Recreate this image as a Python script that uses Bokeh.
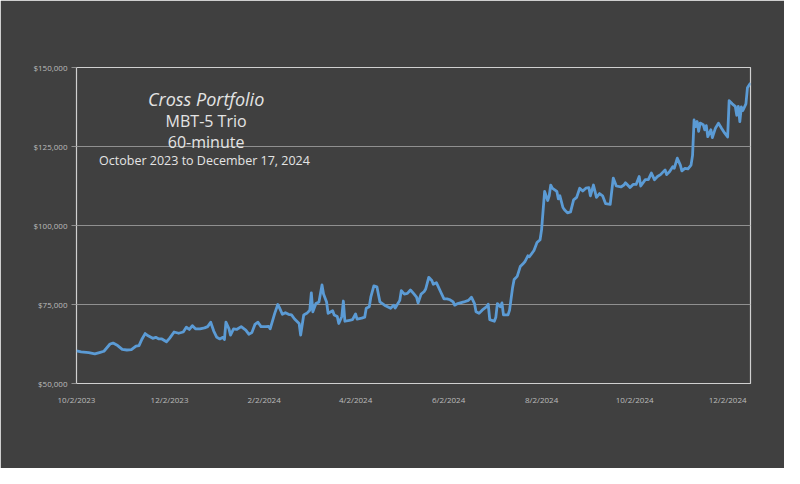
import pandas as pd
from bokeh.plotting import figure
from bokeh.models import Range1d, FixedTicker, NumeralTickFormatter, Label
from bokeh.embed import file_html
from bokeh.resources import INLINE

# ---------------- data ----------------
DATES = [
    "2023-10-02", "2023-10-05", "2023-10-10", "2023-10-14", "2023-10-17", "2023-10-20",
    "2023-10-24", "2023-10-26", "2023-10-29", "2023-11-01", "2023-11-04", "2023-11-07",
    "2023-11-10", "2023-11-12", "2023-11-14", "2023-11-16", "2023-11-18", "2023-11-21",
    "2023-11-23", "2023-11-25", "2023-11-27", "2023-11-30", "2023-12-02", "2023-12-05",
    "2023-12-08", "2023-12-11", "2023-12-13", "2023-12-15", "2023-12-17", "2023-12-19",
    "2023-12-22", "2023-12-25", "2023-12-27", "2023-12-29", "2023-12-31", "2024-01-02",
    "2024-01-04", "2024-01-06", "2024-01-07", "2024-01-08", "2024-01-10", "2024-01-11",
    "2024-01-13", "2024-01-15", "2024-01-18", "2024-01-21", "2024-01-23", "2024-01-25",
    "2024-01-27", "2024-01-29", "2024-01-31", "2024-02-03", "2024-02-05", "2024-02-06",
    "2024-02-09", "2024-02-11", "2024-02-12", "2024-02-14", "2024-02-16", "2024-02-18",
    "2024-02-20", "2024-02-22", "2024-02-25", "2024-02-26", "2024-02-28", "2024-03-01",
    "2024-03-03", "2024-03-04", "2024-03-05", "2024-03-07", "2024-03-09", "2024-03-11",
    "2024-03-12", "2024-03-14", "2024-03-15", "2024-03-18", "2024-03-19", "2024-03-21",
    "2024-03-22", "2024-03-24", "2024-03-25", "2024-03-26", "2024-03-29", "2024-03-31",
    "2024-04-02", "2024-04-03", "2024-04-06", "2024-04-08", "2024-04-09", "2024-04-11",
    "2024-04-12", "2024-04-14", "2024-04-16", "2024-04-18", "2024-04-21", "2024-04-23",
    "2024-04-25", "2024-04-27", "2024-04-28", "2024-05-01", "2024-05-02", "2024-05-04",
    "2024-05-06", "2024-05-08", "2024-05-10", "2024-05-12", "2024-05-13", "2024-05-15",
    "2024-05-17", "2024-05-18", "2024-05-20", "2024-05-22", "2024-05-23", "2024-05-25",
    "2024-05-26", "2024-05-28", "2024-05-30", "2024-06-01", "2024-06-03", "2024-06-05",
    "2024-06-06", "2024-06-08", "2024-06-12", "2024-06-15", "2024-06-17", "2024-06-19",
    "2024-06-20", "2024-06-22", "2024-06-24", "2024-06-27", "2024-06-28", "2024-06-29",
    "2024-07-02", "2024-07-03", "2024-07-04", "2024-07-06", "2024-07-07", "2024-07-08",
    "2024-07-11", "2024-07-12", "2024-07-14", "2024-07-15", "2024-07-17", "2024-07-19",
    "2024-07-21", "2024-07-22", "2024-07-24", "2024-07-25", "2024-07-28", "2024-07-30",
    "2024-08-01", "2024-08-02", "2024-08-03", "2024-08-04", "2024-08-06", "2024-08-07",
    "2024-08-08", "2024-08-09", "2024-08-12", "2024-08-13", "2024-08-14", "2024-08-16",
    "2024-08-17", "2024-08-19", "2024-08-21", "2024-08-23", "2024-08-25", "2024-08-27",
    "2024-08-29", "2024-08-31", "2024-09-02", "2024-09-03", "2024-09-05", "2024-09-07",
    "2024-09-09", "2024-09-11", "2024-09-13", "2024-09-16", "2024-09-18", "2024-09-20",
    "2024-09-23", "2024-09-25", "2024-09-26", "2024-09-29", "2024-10-01", "2024-10-03",
    "2024-10-05", "2024-10-06", "2024-10-09", "2024-10-11", "2024-10-13", "2024-10-15",
    "2024-10-17", "2024-10-19", "2024-10-22", "2024-10-23", "2024-10-25", "2024-10-27",
    "2024-10-28", "2024-10-30", "2024-11-01", "2024-11-02", "2024-11-04", "2024-11-06",
    "2024-11-08", "2024-11-09", "2024-11-10", "2024-11-11", "2024-11-12", "2024-11-13",
    "2024-11-14", "2024-11-16", "2024-11-17", "2024-11-18", "2024-11-19", "2024-11-21",
    "2024-11-22", "2024-11-24", "2024-11-26", "2024-11-28", "2024-11-30", "2024-12-02",
    "2024-12-03", "2024-12-05", "2024-12-07", "2024-12-08", "2024-12-09", "2024-12-10",
    "2024-12-11", "2024-12-12", "2024-12-14", "2024-12-15", "2024-12-17",
]

EQUITY = [
    60300, 60000, 59800, 59400, 59800, 60200,
    62500, 62800, 62000, 60800, 60600, 60700,
    61800, 62000, 64100, 65800, 65100, 64300,
    64600, 64100, 64100, 63200, 64300, 66300,
    65900, 66300, 67800, 67100, 68300, 67300,
    67300, 67600, 68000, 69400, 66600, 64600,
    64100, 64600, 63900, 69400, 67300, 65300,
    67300, 67100, 68000, 66900, 65600, 66100,
    68700, 69400, 68000, 68000, 68100, 67300,
    72200, 75000, 74100, 71900, 72400, 71900,
    71700, 70400, 69000, 65300, 71700, 72200,
    73200, 78700, 72700, 75300, 75800, 81200,
    78300, 75800, 72200, 73000, 71700, 71200,
    69000, 71200, 76100, 69700, 70000, 70200,
    72000, 70400, 70700, 71000, 73800, 74300,
    77300, 80900, 80600, 75800, 74800, 74300,
    73800, 74800, 73900, 76300, 79400, 78300,
    78500, 79600, 78500, 77300, 75500, 78300,
    79100, 79900, 83600, 82600, 81400, 81900,
    80900, 78800, 76800, 76800, 76500, 75800,
    74800, 75300, 75800, 76300, 77300, 75300,
    72700, 72200, 73200, 74300, 75100, 70200,
    69700, 71000, 75300, 74300, 75500, 71700,
    71700, 73200, 80400, 82900, 83900, 87000,
    88000, 88500, 90400, 90100, 92100, 94600,
    95500, 98700, 104800, 110800, 107900, 109400,
    112800, 111800, 110800, 108400, 109400, 105700,
    105000, 104000, 104300, 108100, 108900, 111800,
    110900, 111800, 112000, 109400, 112800, 108900,
    110100, 109400, 106900, 106700, 115000, 112500,
    112200, 112800, 113500, 112000, 113000, 113000,
    115500, 112500, 114500, 114500, 116600, 114500,
    115500, 116100, 117600, 116100, 117100, 118600,
    118100, 121300, 119100, 117300, 118100, 117900,
    119100, 122200, 133400, 131300, 132900, 129800,
    132400, 131900, 130300, 131600, 128100, 130300,
    127800, 130800, 132400, 130800, 129300, 128000,
    139500, 138500, 137700, 134900, 137700, 132900,
    137500, 136400, 138500, 143600, 145100,
]

X_TICK_LABELS = ["10/2/2023", "12/2/2023", "2/2/2024", "4/2/2024",
                 "6/2/2024", "8/2/2024", "10/2/2024", "12/2/2024"]
Y_TICKS = [50000, 75000, 100000, 125000, 150000]
X_START, X_END = "2023-10-02", "2024-12-17"

TITLE_LINES = ["Cross Portfolio", "MBT-5 Trio", "60-minute",
               "October  2023 to December 17, 2024"]

# ---------------- layout / style ----------------
BG = "#404040"
LINE = "#5b9bd5"
BORDER = "#d0d0d0"
GRID = "#909090"
TICK_TXT = "#bcbcbc"
TITLE_TXT = "#e4e4e4"

dates = pd.to_datetime(DATES)
x_start = pd.Timestamp(X_START)
x_end = pd.Timestamp(X_END)

p = figure(
    width=784, height=468,
    x_axis_type="datetime",
    x_range=Range1d(x_start, x_end),
    y_range=Range1d(Y_TICKS[0], Y_TICKS[-1]),
    output_backend="svg", toolbar_location=None,
    min_border_left=76, min_border_right=34,
    min_border_top=67, min_border_bottom=85,
    background_fill_color=BG, border_fill_color=BG,
)
p.title.visible = False

p.outline_line_color = BORDER
p.outline_line_width = 1.2

p.line(dates, EQUITY, line_color=LINE, line_width=2.8, line_join="round")

# x axis
tick_dates = pd.to_datetime(X_TICK_LABELS, format="%m/%d/%Y")
tick_ms = [int(t.value // 10**6) for t in tick_dates]
p.xaxis.ticker = FixedTicker(ticks=tick_ms)
p.xaxis.major_label_overrides = {ms: lab for ms, lab in zip(tick_ms, X_TICK_LABELS)}
p.xaxis.axis_line_color = None
p.xaxis.major_tick_line_color = None
p.xaxis.major_tick_in = 0
p.xaxis.major_tick_out = 0
p.xaxis.minor_tick_line_color = None
p.xaxis.minor_tick_in = 0
p.xaxis.minor_tick_out = 0
p.xaxis.major_label_standoff = 10
p.xaxis.major_label_text_color = TICK_TXT
p.xaxis.major_label_text_font = "Open Sans"
p.xaxis.major_label_text_font_size = "8px"

# y axis
p.yaxis.ticker = FixedTicker(ticks=Y_TICKS)
p.yaxis.formatter = NumeralTickFormatter(format="$0,0")
p.yaxis.axis_line_color = None
p.yaxis.major_tick_line_color = GRID
p.yaxis.major_tick_in = 0
p.yaxis.major_tick_out = 5
p.yaxis.minor_tick_line_color = None
p.yaxis.major_label_standoff = 4
p.yaxis.major_label_text_color = TICK_TXT
p.yaxis.major_label_text_font = "Open Sans"
p.yaxis.major_label_text_font_size = "8px"

p.xgrid.grid_line_color = None
p.ygrid.grid_line_color = GRID
p.ygrid.grid_line_width = 1

# in-chart title block (anchored in data coordinates)
label_x = pd.Timestamp("2023-12-26")
label_specs = [
    (TITLE_LINES[0], 139900, "18px", "italic"),
    (TITLE_LINES[1], 133200, "16px", "normal"),
    (TITLE_LINES[2], 126450, "16px", "normal"),
    (TITLE_LINES[3], 120600, "12.5px", "normal"),
]
for txt, yv, size, style in label_specs:
    p.add_layout(Label(
        x=label_x, y=yv, text=txt,
        text_align="center", text_baseline="alphabetic",
        text_font="Open Sans", text_font_size=size, text_font_style=style,
        text_color=TITLE_TXT,
    ))

open("out.html", "w").write(file_html(p, INLINE))
